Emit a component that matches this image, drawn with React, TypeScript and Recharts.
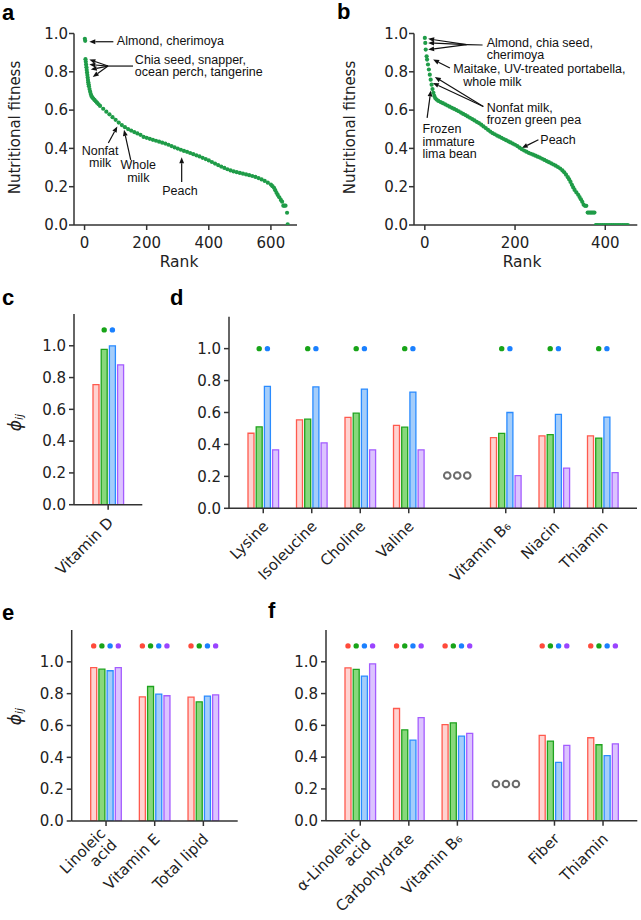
import React from 'react'
import {
  ComposedChart,
  ScatterChart,
  Scatter,
  Bar,
  XAxis,
  YAxis,
  ReferenceLine,
  ReferenceDot,
} from 'recharts'

const FONT = 'DejaVu Sans, sans-serif'
const NOTE_FONT = 'Liberation Sans, Arial, sans-serif'
const INK = '#222'
const FRAME = '#333'
const CURVE = '#1f9c48'

// ---- panel a: nutritional fitness vs rank (all foods)
const aRank = [
  1, 2, 3, 4, 5, 6, 7, 8, 9, 10, 11, 12, 13, 14, 16, 18, 20, 22, 25, 28, 32, 36, 40, 45, 50,
  60, 70, 80, 90, 100, 110, 120, 130, 140, 150, 160, 170, 180, 190, 200, 210, 220, 230, 240,
  250, 260, 270, 280, 290, 300, 310, 320, 330, 340, 350, 360, 370, 380, 390, 400, 410, 420,
  430, 440, 450, 460, 470, 480, 490, 500, 510, 520, 530, 540, 550, 560, 570, 580, 590, 600,
  605, 610, 614, 618, 622, 627, 632, 636, 640, 643, 647, 652, 654,
]
const aFit = [
  0.972, 0.962, 0.866, 0.852, 0.838, 0.824, 0.81, 0.796, 0.783, 0.77, 0.757, 0.745, 0.735,
  0.725, 0.71, 0.696, 0.684, 0.674, 0.666, 0.66, 0.653, 0.646, 0.639, 0.63, 0.622,
  0.607, 0.592, 0.578, 0.563, 0.549, 0.535, 0.522, 0.511, 0.501, 0.493, 0.485, 0.478, 0.471,
  0.46, 0.455, 0.45, 0.445, 0.44, 0.435, 0.43, 0.425, 0.419, 0.412, 0.405, 0.399, 0.393,
  0.387, 0.382, 0.376, 0.37, 0.364, 0.358, 0.351, 0.344, 0.337, 0.329, 0.321, 0.313, 0.305,
  0.298, 0.291, 0.285, 0.28, 0.276, 0.272, 0.268, 0.264, 0.26, 0.256, 0.251, 0.245, 0.238,
  0.23, 0.221, 0.211, 0.203, 0.194, 0.182, 0.168, 0.157, 0.145, 0.131, 0.122, 0.101, 0.101,
  0.101, 0.064, 0.004,
]

// ---- panel b: nutritional fitness vs rank (raw foods)
const bRank = [
  0, 1, 2, 4, 5, 7, 9, 11, 13, 15, 17, 19, 21, 23, 26, 30, 35, 40, 45, 50, 55, 60, 65, 70,
  75, 80, 85, 90, 95, 100, 105, 110, 115, 120, 125, 130, 135, 140, 145, 150, 155, 160, 165,
  170, 175, 180, 185, 190, 195, 200, 205, 210, 215, 220, 225, 230, 235, 240, 245, 250, 255,
  260, 265, 270, 275, 280, 285, 290, 295, 300, 305, 309, 313, 317, 320, 323, 326, 329, 332,
  336, 340, 343, 346, 349, 352, 355, 358, 361, 364, 367, 370, 373, 376, 379, 382, 386, 390,
  394, 398, 402, 406, 410, 414, 418, 422, 426, 430, 434, 438, 442, 446, 450,
]
const bFit = [
  0.977, 0.951, 0.916, 0.881, 0.864, 0.838, 0.812, 0.785, 0.759, 0.733, 0.71, 0.69, 0.674,
  0.663, 0.655, 0.648, 0.642, 0.636, 0.63, 0.624, 0.618, 0.612, 0.606, 0.6, 0.594, 0.587,
  0.58, 0.574, 0.567, 0.56, 0.553, 0.546, 0.539, 0.532, 0.524, 0.515, 0.506, 0.497, 0.488,
  0.48, 0.474, 0.467, 0.461, 0.455, 0.449, 0.443, 0.437, 0.431, 0.425, 0.419, 0.412, 0.404,
  0.396, 0.389, 0.383, 0.377, 0.372, 0.367, 0.362, 0.357, 0.352, 0.346, 0.34, 0.334, 0.328,
  0.322, 0.316, 0.31, 0.303, 0.295, 0.285, 0.275, 0.263, 0.25, 0.238, 0.225, 0.21, 0.196,
  0.183, 0.17, 0.158, 0.146, 0.134, 0.121, 0.106, 0.1, 0.1, 0.065, 0.065, 0.065, 0.065,
  0.065, 0.065, 0, 0, 0, 0, 0, 0, 0, 0, 0, 0, 0, 0, 0, 0, 0, 0, 0, 0, 0,
]

const FIT_TICKS = [0, 0.2, 0.4, 0.6, 0.8, 1.0]
const aTicks = [0, 200, 400, 600]
const bTicks = [0, 200, 400]

type Note = { at: [number, number]; lines: string[]; anchor?: 'start' | 'middle'; indent?: number[] }
type Arrow = { from: [number, number]; to: [number, number]; head?: boolean }

const aNotes: Note[] = [
  { at: [104, 0.94], lines: ['Almond, cherimoya'] },
  { at: [162, 0.842], lines: ['Chia seed, snapper,', 'ocean perch, tangerine'] },
  { at: [50, 0.368], lines: ['Nonfat', 'milk'], anchor: 'middle' },
  { at: [173, 0.29], lines: ['Whole', 'milk'], anchor: 'middle' },
  { at: [307, 0.157], lines: ['Peach'], anchor: 'middle' },
]
const aArrows: Arrow[] = [
  { from: [92.7, 0.957], to: [15.4, 0.957] },
  { from: [156, 0.83], to: [75.6, 0.83], head: false },
  { from: [75.6, 0.83], to: [15.4, 0.864] },
  { from: [75.6, 0.83], to: [15.4, 0.838] },
  { from: [75.6, 0.83], to: [20, 0.812] },
  { from: [75.6, 0.83], to: [26.4, 0.773] },
  { from: [76.6, 0.428], to: [105.5, 0.515] },
  { from: [148.6, 0.34], to: [127.1, 0.497] },
  { from: [312.7, 0.225], to: [312.7, 0.354] },
]

const bNotes: Note[] = [
  { at: [137, 0.932], lines: ['Almond, chia seed,', 'cherimoya'] },
  { at: [63, 0.792], lines: ['Maitake, UV-treated portabella,', 'whole milk'], indent: [0, 10] },
  { at: [137, 0.592], lines: ['Nonfat milk,', 'frozen green pea'] },
  { at: [-5, 0.478], lines: ['Frozen', 'immature', 'lima bean'] },
  { at: [256, 0.424], lines: ['Peach'] },
]
const bArrows: Arrow[] = [
  { from: [128, 0.94], to: [92.7, 0.942], head: false },
  { from: [92.7, 0.942], to: [7.3, 0.972] },
  { from: [92.7, 0.942], to: [7.3, 0.951] },
  { from: [92.7, 0.942], to: [7.3, 0.916] },
  { from: [55.6, 0.82], to: [18.4, 0.864] },
  { from: [129.6, 0.619], to: [22.2, 0.773] },
  { from: [129.6, 0.619], to: [17.8, 0.742] },
  { from: [5.1, 0.559], to: [13.3, 0.703] },
  { from: [251.8, 0.445], to: [214.9, 0.402] },
]

// ---- panels c-f: phi_ij per nutrient for four groups
const cCats = ['Vitamin D']
const cRed = [0.756]
const cGreen = [0.977]
const cBlue = [1.0]
const cPurple = [0.88]

const dCats = ['Lysine', 'Isoleucine', 'Choline', 'Valine', 'gap', 'Vitamin B₆', 'Niacin', 'Thiamin']
const dRed = [0.47, 0.554, 0.57, 0.519, null, 0.443, 0.454, 0.454]
const dGreen = [0.51, 0.558, 0.596, 0.508, null, 0.469, 0.462, 0.44]
const dBlue = [0.763, 0.76, 0.747, 0.728, null, 0.6, 0.588, 0.571]
const dPurple = [0.366, 0.41, 0.366, 0.366, null, 0.205, 0.251, 0.224]

const eCats = ['Linoleic\nacid', 'Vitamin E', 'Total lipid']
const eRed = [0.964, 0.78, 0.778]
const eGreen = [0.954, 0.845, 0.749]
const eBlue = [0.944, 0.797, 0.785]
const ePurple = [0.964, 0.787, 0.793]

const fCats = ['α-Linolenic\nacid', 'Carbohydrate', 'Vitamin B₆', 'gap', 'Fiber', 'Thiamin']
const fRed = [0.962, 0.706, 0.604, null, 0.537, 0.522]
const fGreen = [0.952, 0.572, 0.616, null, 0.501, 0.478]
const fBlue = [0.91, 0.507, 0.532, null, 0.367, 0.409]
const fPurple = [0.987, 0.648, 0.549, null, 0.474, 0.484]

const PHI_TICKS = [0, 0.2, 0.4, 0.6, 0.8, 1.0]

const SERIES = [
  { key: 'red', stroke: '#ff5a4e', fill: '#ffd3d1', dot: '#ff4a3a' },
  { key: 'green', stroke: '#1ea31e', fill: '#88d87c', dot: '#18a418' },
  { key: 'blue', stroke: '#2a8bff', fill: '#a4cdfa', dot: '#1a80ff' },
  { key: 'purple', stroke: '#a45cff', fill: '#dcc3ff', dot: '#9a44ff' },
]

const frame = { stroke: FRAME, strokeWidth: 1.5 }
const tickStyle = { fontSize: 15, fill: INK, fontFamily: FONT }
const fmt = (v: number) => v.toFixed(1)

const arrowShape = (p: any) => {
  const { x1, y1, x2, y2 } = p
  const ang = Math.atan2(y2 - y1, x2 - x1)
  const L = 6
  const W = 2.4
  const bx = x2 - L * Math.cos(ang)
  const by = y2 - L * Math.sin(ang)
  const pts = `${x2},${y2} ${bx - W * Math.sin(ang)},${by + W * Math.cos(ang)} ${bx + W * Math.sin(ang)},${by - W * Math.cos(ang)}`
  return (
    <g>
      <line x1={x1} y1={y1} x2={bx} y2={by} stroke="#111" strokeWidth={1.2} />
      <polygon points={pts} fill="#111" />
    </g>
  )
}
const plainShape = (p: any) => <line x1={p.x1} y1={p.y1} x2={p.x2} y2={p.y2} stroke="#111" strokeWidth={1.2} />

const noteShape = (n: Note) => (p: any) => (
  <text x={p.cx} y={p.cy} textAnchor={n.anchor ?? 'start'} fontSize={12.5} fontFamily={NOTE_FONT} fill="#111">
    {n.lines.map((l, i) => (
      <tspan key={i} x={p.cx + (n.indent?.[i] ?? 0)} y={p.cy + i * 12.4}>
        {l}
      </tspan>
    ))}
  </text>
)

const curveDot = (p: any) => <circle cx={p.cx} cy={p.cy} r={2.1} fill={CURVE} />

function FitnessPanel(props: {
  left: number
  width: number
  margin: { top: number; right: number; bottom: number; left: number }
  rank: number[]
  fit: number[]
  xDomain: [number, number]
  xTicks: number[]
  notes: Note[]
  arrows: Arrow[]
}) {
  const { left, width, margin, rank, fit, xDomain, xTicks, notes, arrows } = props
  const pts = rank.map((r, i) => ({ rank: r, fit: fit[i] }))
  return (
    <div style={{ position: 'absolute', left, top: 0 }}>
      <ScatterChart width={width} height={300} margin={margin}>
        <XAxis
          dataKey="rank"
          type="number"
          domain={xDomain}
          ticks={xTicks}
          allowDataOverflow
          height={50}
          tickSize={5}
          tickMargin={7}
          tick={tickStyle}
          axisLine={frame}
          tickLine={frame}
        />
        <XAxis xAxisId="top" orientation="top" type="number" domain={xDomain} allowDataOverflow height={0} tick={false} tickLine={false} axisLine={frame} />
        <YAxis
          dataKey="fit"
          type="number"
          domain={[0, 1]}
          ticks={FIT_TICKS}
          allowDataOverflow
          width={60}
          tickSize={5}
          tickMargin={1}
          tickFormatter={fmt}
          tick={tickStyle}
          axisLine={frame}
          tickLine={frame}
        />
        <YAxis yAxisId="right" orientation="right" type="number" domain={[0, 1]} allowDataOverflow width={0} tick={false} tickLine={false} axisLine={frame} />
        <Scatter data={pts} dataKey="fit" fill={CURVE} shape={curveDot} isAnimationActive={false} />
        {arrows.map((a, i) => (
          <ReferenceLine
            key={'ar' + i}
            segment={[
              { x: a.from[0], y: a.from[1] },
              { x: a.to[0], y: a.to[1] },
            ]}
            ifOverflow="visible"
            shape={a.head === false ? plainShape : arrowShape}
          />
        ))}
        {notes.map((n, i) => (
          <ReferenceDot key={'nt' + i} x={n.at[0]} y={n.at[1]} r={0} ifOverflow="visible" shape={noteShape(n)} />
        ))}
      </ScatterChart>
    </div>
  )
}

const CatTick = (p: any) => {
  const lines = String(p.payload.value).split('\n')
  const px = p.x + 6
  const py = p.y + 12
  return (
    <text transform={`rotate(-45, ${px}, ${py})`} textAnchor="end" fontSize={15} fontFamily={FONT} fill={INK}>
      {lines.map((l, i) => (
        <tspan key={i} x={px} y={py + (i - (lines.length - 1) / 2) * 16}>
          {l}
        </tspan>
      ))}
    </text>
  )
}

const markShape = (key: string, color: string) => (p: any) =>
  p.payload == null || p.payload[key] == null ? <g /> : <circle cx={p.x + p.width / 2} cy={p.y} r={2.7} fill={color} />

const ellipsisShape = (p: any) => (
  <g fill="none" stroke="#6b6b6b" strokeWidth={2}>
    {[-10, 0, 10].map((dx) => (
      <circle key={dx} cx={p.cx + dx} cy={p.cy} r={3.3} />
    ))}
  </g>
)

function PhiPanel(props: {
  left: number
  top: number
  width: number
  height: number
  margin: { top: number; right: number; bottom: number; left: number }
  cats: string[]
  vals: Record<string, (number | null)[]>
  marked: string[]
  markLevel: number
  gapLevel?: number
}) {
  const { left, top, width, height, margin, cats, vals, marked, markLevel, gapLevel } = props
  const rows = cats.map((name, i) => {
    const row: Record<string, any> = { name }
    for (const s of SERIES) {
      const v = vals[s.key][i]
      row[s.key] = v
      row[s.key + 'Mark'] = marked.includes(s.key) && v != null ? markLevel - v : null
    }
    return row
  })
  const shown = cats.filter((c) => c !== 'gap')
  return (
    <div style={{ position: 'absolute', left, top }}>
      <ComposedChart width={width} height={height} data={rows} margin={margin} barSize={6} barGap={2.2}>
        <XAxis
          dataKey="name"
          type="category"
          padding={{ left: 10, right: 10 }}
          ticks={shown}
          interval={0}
          height={50}
          tickSize={5}
          tickMargin={2}
          tick={<CatTick />}
          axisLine={frame}
          tickLine={frame}
        />
        <XAxis xAxisId="top" orientation="top" dataKey="name" type="category" height={0} tick={false} tickLine={false} axisLine={frame} />
        <YAxis
          type="number"
          domain={[0, 1.2]}
          ticks={PHI_TICKS}
          allowDataOverflow
          width={50}
          tickSize={5}
          tickMargin={3}
          tickFormatter={fmt}
          tick={tickStyle}
          axisLine={frame}
          tickLine={frame}
        />
        <YAxis yAxisId="right" orientation="right" type="number" domain={[0, 1.2]} width={0} tick={false} tickLine={false} axisLine={frame} />
        {SERIES.flatMap((s) => [
          <Bar
            key={s.key}
            dataKey={s.key}
            stackId={s.key}
            fill={s.fill}
            stroke={s.stroke}
            strokeWidth={1.3}
            isAnimationActive={false}
          />,
          <Bar
            key={s.key + 'Mark'}
            dataKey={s.key + 'Mark'}
            stackId={s.key}
            fill="none"
            shape={markShape(s.key + 'Mark', s.dot)}
            isAnimationActive={false}
          />,
        ])}
        {gapLevel != null && <ReferenceDot x="gap" y={gapLevel} r={0} shape={ellipsisShape} />}
      </ComposedChart>
    </div>
  )
}

const Phi = ({ x, y }: { x: number; y: number }) => (
  <text transform={`rotate(-90, ${x}, ${y})`} x={x} y={y} textAnchor="middle" dominantBaseline="central" fontFamily={FONT} fill={INK}>
    <tspan fontSize={17} fontStyle="italic">ϕ</tspan>
    <tspan fontSize={11} fontStyle="italic" dy={4}>ij</tspan>
  </text>
)

export default function App() {
  const letter = { fontFamily: NOTE_FONT, fontWeight: 700, fontSize: 22, fill: '#000' }
  return (
    <div style={{ position: 'absolute', left: 0, top: 0, width: 641, height: 920, background: '#fff' }}>
      <FitnessPanel
        left={0}
        width={320}
        margin={{ top: 33.5, right: 23, bottom: 25, left: 14 }}
        rank={aRank}
        fit={aFit}
        xDomain={[-34, 684]}
        xTicks={aTicks}
        notes={aNotes}
        arrows={aArrows}
      />
      <FitnessPanel
        left={320}
        width={321}
        margin={{ top: 33.5, right: 3.7, bottom: 25, left: 34 }}
        rank={bRank}
        fit={bFit}
        xDomain={[-24, 471]}
        xTicks={bTicks}
        notes={bNotes}
        arrows={bArrows}
      />
      <PhiPanel
        left={0}
        top={290}
        width={160}
        height={300}
        margin={{ top: 24, right: 17.7, bottom: 35.3, left: 24 }}
        cats={cCats}
        vals={{ red: cRed, green: cGreen, blue: cBlue, purple: cPurple }}
        marked={['green', 'blue']}
        markLevel={1.1}
      />
      <PhiPanel
        left={160}
        top={290}
        width={481}
        height={300}
        margin={{ top: 26.7, right: 4, bottom: 31.7, left: 19 }}
        cats={dCats}
        vals={{ red: dRed, green: dGreen, blue: dBlue, purple: dPurple }}
        marked={['green', 'blue']}
        markLevel={1.0}
        gapLevel={0.205}
      />
      <PhiPanel
        left={0}
        top={600}
        width={250}
        height={320}
        margin={{ top: 30, right: 12.3, bottom: 49, left: 21.7 }}
        cats={eCats}
        vals={{ red: eRed, green: eGreen, blue: eBlue, purple: ePurple }}
        marked={['red', 'green', 'blue', 'purple']}
        markLevel={1.1}
      />
      <PhiPanel
        left={250}
        top={600}
        width={391}
        height={320}
        margin={{ top: 30, right: 3.7, bottom: 49.3, left: 26 }}
        cats={fCats}
        vals={{ red: fRed, green: fGreen, blue: fBlue, purple: fPurple }}
        marked={['red', 'green', 'blue', 'purple']}
        markLevel={1.1}
        gapLevel={0.231}
      />
      <svg width={641} height={920} style={{ position: 'absolute', left: 0, top: 0, pointerEvents: 'none' }}>
        <text x={2} y={20} {...letter}>a</text>
        <text x={337} y={18.5} {...letter}>b</text>
        <text x={2} y={305} {...letter}>c</text>
        <text x={170} y={305} {...letter}>d</text>
        <text x={2} y={620} {...letter}>e</text>
        <text x={268} y={618} {...letter}>f</text>
        <text transform="rotate(-90, 15, 127.5)" x={15} y={127.5} textAnchor="middle" dominantBaseline="central" fontSize={15} fontFamily={FONT} fill={INK}>
          Nutritional fitness
        </text>
        <text transform="rotate(-90, 350, 127.5)" x={350} y={127.5} textAnchor="middle" dominantBaseline="central" fontSize={15} fontFamily={FONT} fill={INK}>
          Nutritional fitness
        </text>
        <text x={179} y={266.5} textAnchor="middle" fontSize={15.5} fontFamily={FONT} fill={INK}>Rank</text>
        <text x={522} y={266.5} textAnchor="middle" fontSize={15.5} fontFamily={FONT} fill={INK}>Rank</text>
        <Phi x={14.5} y={422.5} />
        <Phi x={15} y={716.5} />
      </svg>
    </div>
  )
}
